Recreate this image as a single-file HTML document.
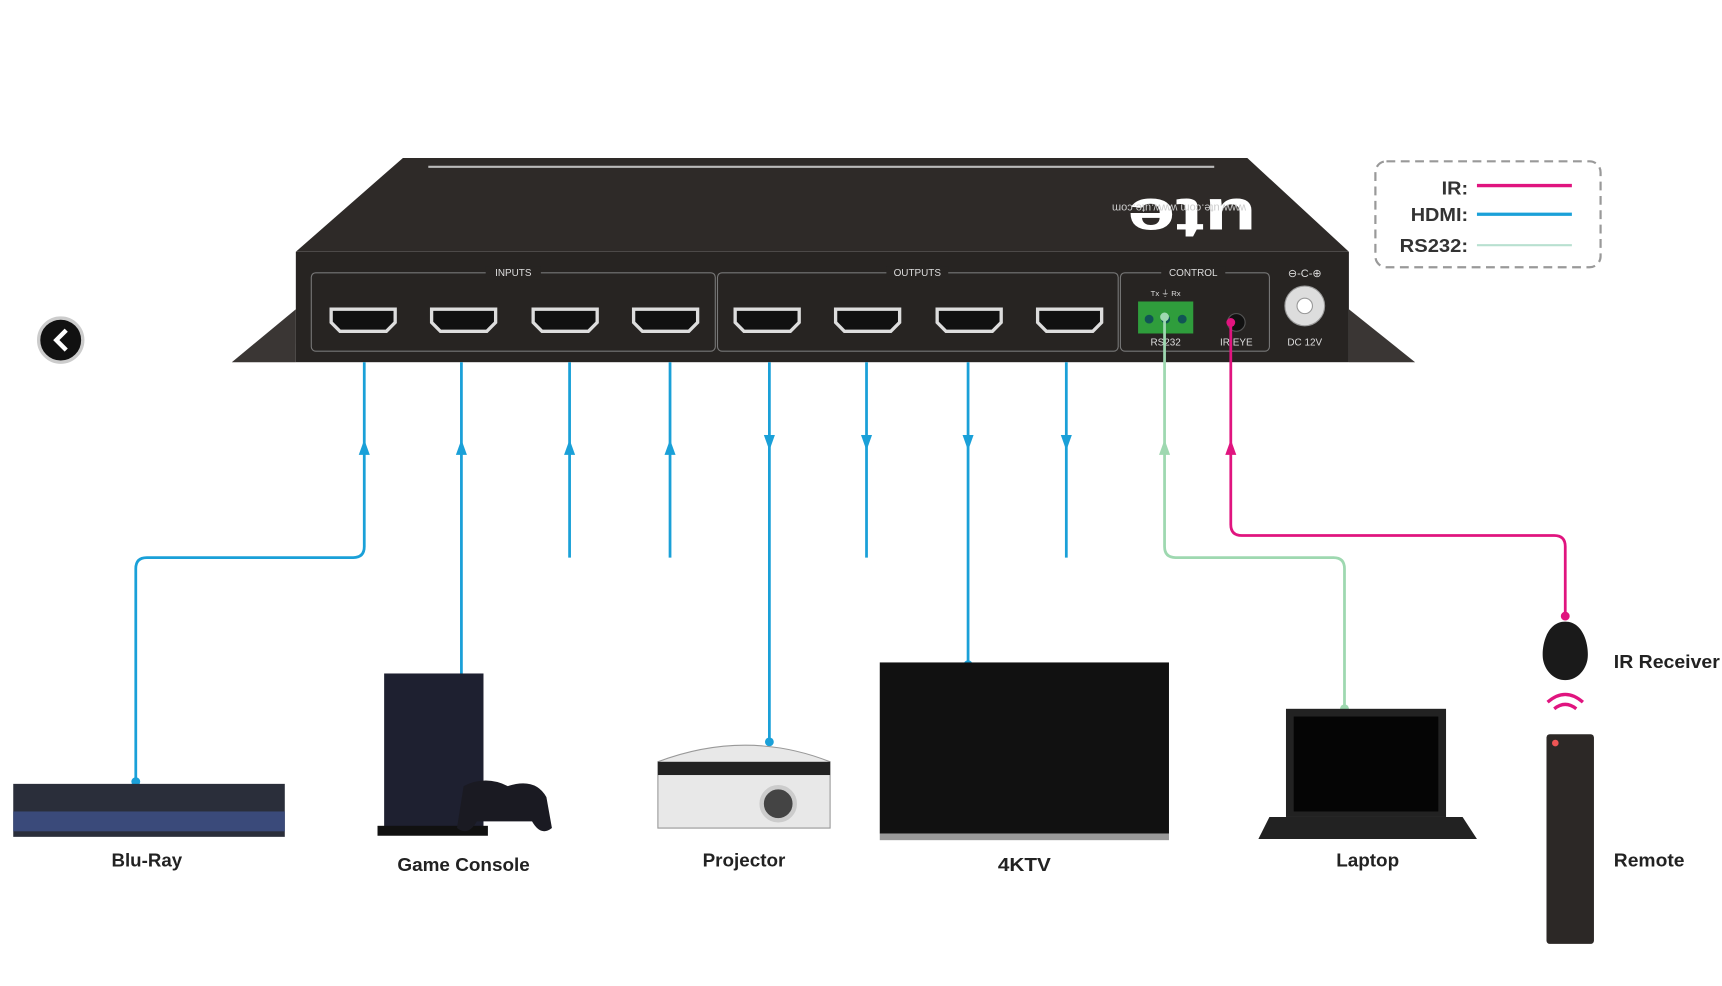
<!DOCTYPE html>
<html><head><meta charset="utf-8"><style>
html,body{margin:0;padding:0;background:#fff;}
svg{display:block;font-family:"Liberation Sans",sans-serif;}
</style></head><body>
<svg width="1722" height="986" viewBox="0 0 1560 893" xmlns="http://www.w3.org/2000/svg">
<rect width="1560" height="893" fill="#fff"/>
<!-- device -->
<polygon points="365,143 1130,143 1222,228 268,228" fill="#2e2a28"/>
<line x1="388" y1="151" x2="1100" y2="151" stroke="#bbb" stroke-width="2"/>
<g transform="rotate(180 1080 198)"><text x="1080" y="216" font-size="52" font-weight="bold" fill="#fff" text-anchor="middle" transform="translate(1080 0) scale(1.5 1) translate(-1080 0)">ute</text></g>
<text x="1068" y="185" transform="rotate(180 1068 185)" font-size="10" fill="#ccc" text-anchor="middle">www.ute.com   www.ute.com</text>
<polygon points="210,328 268,280 268,328" fill="#3a3634"/>
<polygon points="1222,280 1282,328 1222,328" fill="#3a3634"/>
<rect x="268" y="228" width="954" height="100" fill="#272422"/>
<g fill="none" stroke="#777" stroke-width="1">
<rect x="282" y="247" width="366" height="71" rx="4"/>
<rect x="650" y="247" width="363" height="71" rx="4"/>
<rect x="1015" y="247" width="135" height="71" rx="4"/>
</g>
<g font-size="9" fill="#ddd" text-anchor="middle">
<rect x="440" y="241" width="50" height="12" fill="#272422"/><text x="465" y="250">INPUTS</text>
<rect x="803" y="241" width="56" height="12" fill="#272422"/><text x="831" y="250">OUTPUTS</text>
<rect x="1052" y="241" width="58" height="12" fill="#272422"/><text x="1081" y="250">CONTROL</text>
<text x="1056" y="313">RS232</text><text x="1120" y="313">IR EYE</text><text x="1182" y="313">DC 12V</text>
<text x="1056" y="268" font-size="7">Tx ⏚ Rx</text>
</g>
<g fill="#111" stroke="#ddd" stroke-width="3">
<path d="M300,280h58v12l-8,8h-42l-8,-8z"/><path d="M391,280h58v12l-8,8h-42l-8,-8z"/>
<path d="M483,280h58v12l-8,8h-42l-8,-8z"/><path d="M574,280h58v12l-8,8h-42l-8,-8z"/>
<path d="M666,280h58v12l-8,8h-42l-8,-8z"/><path d="M757,280h58v12l-8,8h-42l-8,-8z"/>
<path d="M849,280h58v12l-8,8h-42l-8,-8z"/><path d="M940,280h58v12l-8,8h-42l-8,-8z"/>
</g>
<rect x="1031" y="273" width="50" height="29" fill="#2f9d3c"/>
<circle cx="1041" cy="289" r="4" fill="#155"/><circle cx="1056" cy="289" r="4" fill="#155"/><circle cx="1071" cy="289" r="4" fill="#155"/>
<circle cx="1120" cy="292" r="8" fill="#111" stroke="#555"/>
<circle cx="1182" cy="277" r="18" fill="#ddd" stroke="#999"/><circle cx="1182" cy="277" r="7" fill="#fff" stroke="#999"/>
<text x="1182" y="251" font-size="10" fill="#ddd" text-anchor="middle">⊖-C-⊕</text>
<!-- back button -->
<circle cx="55" cy="308" r="20" fill="#111" stroke="#ccc" stroke-width="3"/>
<path d="M60,299l-9,9l9,9" stroke="#fff" stroke-width="4" fill="none"/>
<!-- HDMI lines -->
<g stroke="#1aa0d8" stroke-width="2.5" fill="none">
<path d="M123,708V515Q123,505 133,505H320Q330,505 330,495V328"/>
<path d="M418,625V328"/><path d="M516,505V328"/><path d="M607,505V328"/>
<path d="M697,328V672"/><path d="M785,328V505"/><path d="M877,328V602"/><path d="M966,328V505"/>
</g>
<g fill="#1aa0d8">
<path d="M330,398l-5,14h10z"/><path d="M418,398l-5,14h10z"/><path d="M516,398l-5,14h10z"/><path d="M607,398l-5,14h10z"/>
<path d="M697,408l-5,-14h10z"/><path d="M785,408l-5,-14h10z"/><path d="M877,408l-5,-14h10z"/><path d="M966,408l-5,-14h10z"/>
<circle cx="123" cy="708" r="4"/><circle cx="418" cy="625" r="4"/><circle cx="697" cy="672" r="4"/><circle cx="877" cy="602" r="4"/>
</g>
<path d="M1055,289V495Q1055,505 1065,505H1208Q1218,505 1218,515V642" stroke="#9ed8b0" stroke-width="2.5" fill="none"/>
<path d="M1055,398l-5,14h10z" fill="#9ed8b0"/><circle cx="1218" cy="642" r="4" fill="#9ed8b0"/><circle cx="1055" cy="287" r="4" fill="#9ed8b0"/>
<path d="M1115,292V475Q1115,485 1125,485H1408Q1418,485 1418,495V558" stroke="#e0147f" stroke-width="2.5" fill="none"/>
<path d="M1115,398l-5,14h10z" fill="#e0147f"/><circle cx="1418" cy="558" r="4" fill="#e0147f"/><circle cx="1115" cy="292" r="4" fill="#e0147f"/>
<!-- legend -->
<rect x="1246" y="146" width="204" height="96" rx="10" fill="none" stroke="#999" stroke-width="2" stroke-dasharray="8,5"/>
<g font-size="17" fill="#333" text-anchor="end" font-weight="bold"><text x="1330" y="176" textLength="24" lengthAdjust="spacingAndGlyphs">IR:</text><text x="1330" y="200" textLength="52" lengthAdjust="spacingAndGlyphs">HDMI:</text><text x="1330" y="228" textLength="62" lengthAdjust="spacingAndGlyphs">RS232:</text></g>
<line x1="1338" y1="168" x2="1424" y2="168" stroke="#e0147f" stroke-width="3"/>
<line x1="1338" y1="194" x2="1424" y2="194" stroke="#1aa0d8" stroke-width="3"/>
<line x1="1338" y1="222" x2="1424" y2="222" stroke="#b8e0d0" stroke-width="2"/>
<!-- devices -->
<rect x="12" y="710" width="246" height="48" fill="#2a2e3a"/><rect x="12" y="735" width="246" height="18" fill="#3a4a7a"/>
<rect x="348" y="610" width="90" height="145" fill="#1e2030"/><rect x="342" y="748" width="100" height="9" fill="#111"/>
<path d="M420,712q20,-10 40,0q25,-8 35,10l5,28q-10,8 -18,-6h-50q-8,14 -18,6z" fill="#1a1a22"/>
<path d="M596,690q80,-30 156,0v60h-156z" fill="#e8e8e8" stroke="#999"/><rect x="596" y="690" width="156" height="12" fill="#222"/><circle cx="705" cy="728" r="15" fill="#444" stroke="#ccc" stroke-width="4"/>
<rect x="797" y="600" width="262" height="155" fill="#111"/><rect x="797" y="755" width="262" height="6" fill="#999"/>
<rect x="1165" y="642" width="145" height="98" fill="#222"/><rect x="1172" y="649" width="131" height="86" fill="#050505"/>
<path d="M1150,740h175l13,20h-198z" fill="#222"/>
<path d="M1418,563c18,0 22,25 20,35c-2,10 -10,18 -20,18c-10,0 -18,-8 -20,-18c-2,-10 2,-35 20,-35z" fill="#1a1a1a"/>
<g fill="none" stroke="#e0147f" stroke-width="3"><path d="M1408,642q10,-8 20,0"/><path d="M1402,636q16,-14 32,0"/></g>
<rect x="1401" y="665" width="43" height="190" rx="3" fill="#2c2826"/><circle cx="1409" cy="673" r="3" fill="#e55"/>
<g font-size="17" fill="#222" font-weight="bold" text-anchor="middle">
<text x="133" y="785" textLength="64" lengthAdjust="spacingAndGlyphs">Blu-Ray</text><text x="420" y="789" textLength="120" lengthAdjust="spacingAndGlyphs">Game Console</text><text x="674" y="785" textLength="75" lengthAdjust="spacingAndGlyphs">Projector</text>
<text x="928" y="789" textLength="48" lengthAdjust="spacingAndGlyphs">4KTV</text><text x="1239" y="785" textLength="57" lengthAdjust="spacingAndGlyphs">Laptop</text><text x="1494" y="785" textLength="64" lengthAdjust="spacingAndGlyphs">Remote</text>
<text x="1510" y="605" textLength="96" lengthAdjust="spacingAndGlyphs">IR Receiver</text></g>
</svg>
</body></html>
